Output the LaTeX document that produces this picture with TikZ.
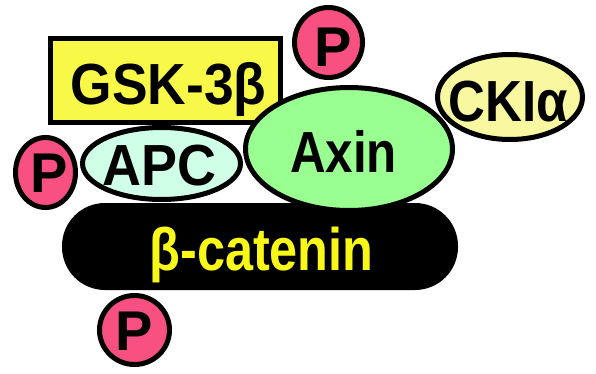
\documentclass[tikz,border=0pt]{standalone}
\usepackage{fontspec}
\setmainfont{Liberation Sans}
\usetikzlibrary{shapes.geometric}
\definecolor{gskyellow}{RGB}{248,248,72}
\definecolor{apccyan}{RGB}{208,255,232}
\definecolor{axingreen}{RGB}{152,255,144}
\definecolor{ckpale}{RGB}{248,248,160}
\definecolor{phospho}{RGB}{248,80,128}
\definecolor{catyellow}{RGB}{248,248,24}
\tikzset{
  protein/.style={draw=black, line width=5pt, inner sep=0pt},
  blob/.style={protein, ellipse},
  phos/.style={protein, ellipse, fill=phospho},
  lbl/.style={anchor=base, inner sep=0pt, font=\bfseries\fontsize{58}{58}\selectfont},
  plbl/.style={anchor=base, inner sep=0pt, font=\bfseries\fontsize{56}{56}\selectfont},
}
\begin{document}
\begin{tikzpicture}[x=1pt, y=-1pt]
  \useasboundingbox[fill=white] (0,0) rectangle (596,374);

  % kinase box
  \node[protein, rectangle, fill=gskyellow, minimum width=230pt, minimum height=84pt]
    (gsk) at (165.5,80.5) {};

  % scaffold complex
  \node[rectangle, fill=black, rounded corners=43pt, minimum width=396pt, minimum height=87pt, inner sep=0pt]
    (bcat) at (260,246.5) {};
  \node[blob, fill=apccyan, minimum width=158pt, minimum height=72pt] (apc) at (161.5,163.5) {};
  \node[blob, fill=axingreen, minimum width=207pt, minimum height=123pt] (axin) at (349,149) {};
  \node[blob, fill=ckpale, minimum width=145pt, minimum height=85pt] (ck) at (510,97) {};

  % phosphate groups
  \node[phos, minimum width=60pt, minimum height=70pt] (pl) at (45.5,172.5) {};
  \node[phos, minimum width=68pt, minimum height=70pt] (pt) at (328.5,42.5) {};
  \node[phos, minimum width=70pt, minimum height=69pt] (pb) at (134.5,330) {};

  % labels
  \node[lbl] (gsklbl) at (168.5,105) {\scalebox{0.92}[1]{GSK-3β}};
  \node[lbl] (apclbl) at (159.5,185) {\scalebox{0.93}[1]{APC}};
  \node[lbl] (axinlbl) at (343.5,172) {\scalebox{0.85}[1]{Axin}};
  \node[lbl] (cklbl) at (508,122) {\scalebox{0.88}[1]{CKIα}};
  \node[lbl, text=catyellow, font=\bfseries\fontsize{60}{60}\selectfont] (bcatlbl) at (261.5,270)
    {\scalebox{0.84}[1]{β-catenin}};
  \node[plbl] (pllbl) at (49.5,192) {P};
  \node[plbl] (ptlbl) at (333.5,67) {P};
  \node[plbl] (pblbl) at (134,350) {P};
\end{tikzpicture}
\end{document}
